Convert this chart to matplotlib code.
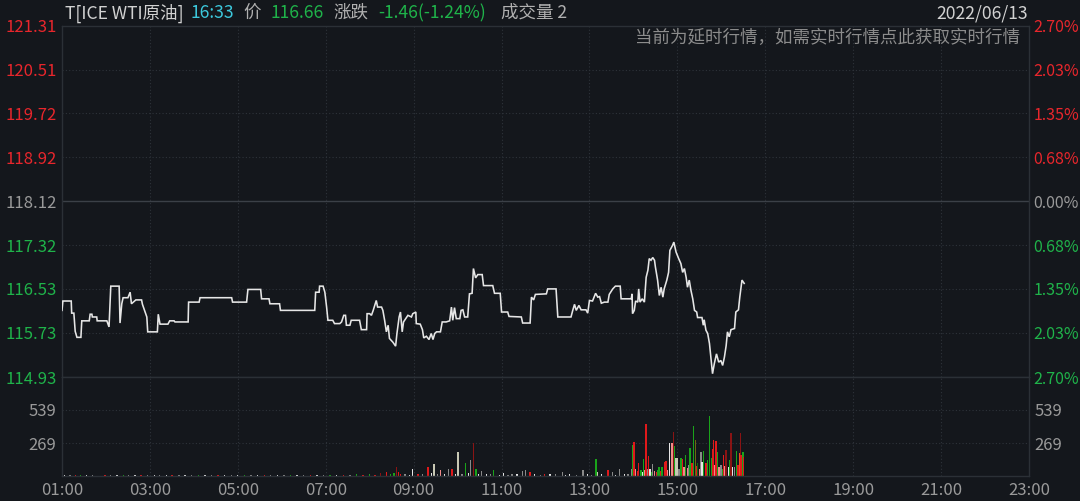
import matplotlib
matplotlib.use("Agg")
import matplotlib.pyplot as plt
import numpy as np

plt.rcParams['font.family'] = ['Noto Sans CJK SC', 'DejaVu Sans']

# ---------------- data ----------------
prev_close = 118.12
price_ticks = [114.93, 115.73, 116.53, 117.32, 118.12, 118.92, 119.72, 120.51, 121.31]
pct_labels = ["2.70%", "2.03%", "1.35%", "0.68%", "0.00%", "0.68%", "1.35%", "2.03%", "2.70%"]
hour_ticks = [1, 3, 5, 7, 9, 11, 13, 15, 17, 19, 21, 23]
hour_labels = ["01:00", "03:00", "05:00", "07:00", "09:00", "11:00", "13:00",
               "15:00", "17:00", "19:00", "21:00", "23:00"]
vol_ticks = [269.5, 539]
vol_tick_labels = ["269", "539"]
vol_max = 808.5

t1 = [1.00,1.02,1.21,1.22,1.27,1.30,1.34,1.43,1.45,1.62,1.64,1.68,1.69,1.79,1.80,2.02,2.07,2.11,2.30,2.32,
      2.36,2.39,2.50,2.55,2.58,2.68,2.81,2.83,2.93,2.95,3.17,3.19,3.23,3.41,3.45,3.55,3.57,3.87,3.88,4.12,
      4.14,4.86,4.88,5.20,5.23,5.52,5.54,5.71,5.73,5.95,5.97,6.75,6.77,6.85,6.86,6.94,6.98,7.02,7.05,7.16,
      7.20,7.32,7.36,7.41,7.45,7.47,7.55,7.58,7.77,7.81,7.93,7.94,8.00,8.04,8.08,8.15,8.18,8.27,8.30,8.34]
p1 = [116.14,116.31,116.31,116.09,116.09,115.76,115.65,115.65,115.95,115.95,116.07,116.07,116.02,116.02,115.95,115.95,115.84,116.58,116.58,115.91,
      116.26,116.37,116.37,116.47,116.26,116.33,116.33,116.25,116.02,115.75,115.75,116.07,115.89,115.89,115.95,115.95,115.93,115.93,116.29,116.29,
      116.37,116.37,116.29,116.29,116.52,116.52,116.35,116.35,116.26,116.26,116.14,116.14,116.47,116.47,116.58,116.58,116.47,116.20,115.96,115.96,
      115.90,115.90,115.93,116.05,116.05,115.87,115.87,115.96,115.96,115.79,115.79,116.08,116.08,116.05,116.14,116.32,116.20,116.20,116.14,115.96]

t2 = [8.38,8.42,8.45,8.53,8.59,8.62,8.67,8.70,8.74,8.77,8.82,8.87,8.95,8.98,9.05,9.06,9.15,9.20,9.23,9.29,
      9.35,9.40,9.44,9.48,9.52,9.61,9.65,9.74,9.82,9.86,9.89,9.93,9.97,10.05,10.08,10.12,10.16,10.23,10.27,10.33,
      10.36,10.41,10.46,10.56,10.59,10.80,10.84,10.97,11.00,11.14,11.17,11.45,11.48,11.65,11.68,11.73,11.77,12.02,12.05,12.24,
      12.28,12.58,12.62,12.66,12.70,12.76,12.81,12.92,12.96,13.00,13.07,13.14,13.19,13.23,13.27,13.34,13.42,13.45,13.53,13.59,
      13.70,13.72,13.92]
p2 = [115.75,115.87,115.63,115.56,115.49,115.72,116.02,116.11,115.75,115.93,115.99,116.05,116.02,116.08,116.11,115.90,115.89,115.79,115.64,115.67,
      115.61,115.72,115.61,115.72,115.75,115.75,115.93,115.93,115.95,116.20,115.96,116.19,115.99,115.99,116.14,116.15,116.02,116.02,116.44,116.45,
      116.90,116.73,116.79,116.79,116.59,116.59,116.45,116.45,116.11,116.11,116.03,116.02,115.91,115.91,116.38,116.33,116.43,116.44,116.53,116.53,
      116.02,116.02,116.14,116.25,116.14,116.23,116.15,116.15,116.09,116.32,116.31,116.45,116.38,116.39,116.27,116.29,116.29,116.43,116.53,116.58,
      116.58,116.35,116.35]

t3 = [13.95,13.97,13.98,14.02,14.05,14.10,14.12,14.15,14.20,14.25,14.29,14.33,14.36,14.40,14.44,14.48,14.50,14.55,14.59,14.63,
      14.67,14.70,14.76,14.80,14.83,14.89,14.92,14.97,15.03,15.08,15.12,15.16,15.20,15.23,15.27,15.31,15.35,15.39,15.44,15.46,
      15.56,15.59,15.61,15.65,15.69,15.73,15.77,15.80,15.84,15.89,15.94,15.99,16.03,16.07,16.11,16.14,16.18,16.22,16.30,16.33,
      16.39,16.42,16.47,16.52]
p3 = [116.35,116.44,116.08,116.14,116.31,116.29,116.53,116.29,116.35,116.29,116.74,116.87,117.08,117.05,117.10,117.05,116.93,116.69,116.41,116.56,
      116.38,116.53,116.69,116.83,117.23,117.32,117.38,117.20,117.08,116.99,116.83,116.90,116.74,116.56,116.69,116.50,116.35,116.14,116.11,116.01,
      116.01,115.87,115.97,115.78,115.72,115.54,115.23,114.99,115.17,115.35,115.20,115.23,115.14,115.29,115.50,115.75,115.66,115.79,115.81,116.11,
      116.15,116.38,116.69,116.63]

# volume bars: time (hours), volume, colour code
vol_t = [1.00,
         1.05,1.18,1.30,1.42,1.55,1.70,1.85,1.98,2.10,2.25,2.40,2.52,2.66,2.80,2.95,3.10,3.22,3.38,3.50,3.66,
         3.80,3.95,4.10,4.25,4.40,4.55,4.70,4.85,5.00,5.15,5.30,5.45,5.60,5.75,5.90,6.05,6.20,6.35,6.50,6.65,
         6.80,6.95,7.10,7.25,7.40,7.55,7.70,7.85,8.00,8.12,8.25,8.38,8.48,
         8.55,8.61,8.65,8.70,8.80,8.90,8.98,9.10,9.20,9.33,9.40,9.46,9.55,9.61,9.70,9.80,9.87,9.95,10.01,10.10,
         10.18,10.25,10.29,10.36,10.42,10.48,10.54,10.65,10.75,10.82,10.95,11.05,11.15,11.24,11.35,11.48,11.55,11.65,11.75,11.88,
         11.98,12.10,12.22,12.38,12.45,12.55,12.70,12.85,12.95,13.05,13.15,13.18,13.28,13.42,13.52,13.60,13.68,13.80,13.88,13.95,
         13.98,14.01,14.05,14.09,14.12,14.17,14.20,14.23,14.26,14.29,14.32,14.35,14.38,14.41,14.44,14.48,14.52,14.55,14.58,14.61,
         14.65,14.70,14.74,14.78,14.82,14.88,14.91,14.93,14.95,14.99,15.02,15.05,15.08,15.12,15.15,15.18,15.23,15.26,15.29,15.33,
         15.37,15.41,15.44,15.46,15.50,15.54,15.56,15.60,15.65,15.69,15.73,15.77,15.80,15.82,15.85,15.88,15.92,15.95,15.99,16.02,
         16.05,16.08,16.11,16.16,16.20,16.22,16.26,16.30,16.35,16.38,16.41,16.43,16.45,16.49,16.51]
vol_v = [1200,
         12,6,9,5,10,7,4,11,6,8,5,12,7,6,9,5,8,10,6,7,
         9,5,8,6,11,7,5,9,6,8,10,5,7,6,9,8,5,11,6,7,
         9,5,12,8,6,10,14,9,18,12,22,30,16,
         25,77,30,20,15,10,58,18,14,71,22,96,15,49,18,58,58,20,195,16,
         110,25,132,269,58,20,44,18,14,49,12,22,10,16,14,44,49,36,15,12,
         20,14,18,36,12,15,10,49,16,12,137,36,14,49,30,12,58,20,15,55,
         255,274,60,40,104,50,30,137,45,428,60,165,55,35,99,40,30,50,70,40,
         77,118,126,45,269,269,359,241,151,151,60,55,145,137,70,173,63,90,228,104,
         406,291,80,104,60,200,118,208,104,132,488,145,219,291,90,283,200,77,90,60,
         173,80,214,77,132,351,77,77,208,90,186,351,173,192,159]
vol_c = ['g',
         'w','gr','r','g','w','gr','w','r','gr','w','g','gr','w','r','gr','w','gr','w','r','gr',
         'w','gr','g','w','gr','r','w','gr','w','g','gr','w','r','gr','w','gr','g','w','gr','r',
         'w','gr','g','w','r','gr','g','r','g','r','dr','r','g',
         'g','dr','r','r','gr','w','w','r','gr','r','w','lg','gr','p','w','gr','r','w','lg','gr',
         'g','w','gr','dr','g','w','gr','w','gr','g','w','w','gr','gr','w','gr','gr','r','w','gr',
         'r','w','gr','gr','w','w','gr','gr','w','gr','g','lg','w','r','gr','w','gr','w','gr','gr',
         'g','r','p','r','r','g','w','g','p','r','gr','r','w','g','gr','p','r','g','g','r',
         'g','r','r','p','w','p','dr','g','lg','lg','gr','gr','g','r','p','g','p','gr','g','r',
         'g','ol','r','dg','p','gr','w','g','r','g','g','g','r','r','p','r','g','p','gr','g',
         'r','p','dr','w','g','dr','w','gr','g','r','o','dr','r','g','r']

# ---------------- style ----------------
bg = '#14171c'
grid_c = '#2e333a'
spine_c = '#2b3036'
red = '#e8262c'
green = '#1fb34a'
gray = '#9a9a9a'
vol_colors = {'r': '#e0191b', 'dr': '#8a1414', 'g': '#1aa31a', 'dg': '#116c11',
              'w': '#e6e6e6', 'gr': '#8a8a8a', 'p': '#f08a8a', 'lg': '#c8c8b4',
              'ol': '#6b6a12', 'o': '#f04a20'}

W, H = 1080, 501
fig = plt.figure(figsize=(W / 100, H / 100), dpi=100)
fig.patch.set_facecolor(bg)

x0, x1 = 62, 1029
yt, ym, yb = 25.7, 377, 476
ax = fig.add_axes([x0 / W, 1 - ym / H, (x1 - x0) / W, (ym - yt) / H])
axv = fig.add_axes([x0 / W, 1 - yb / H, (x1 - x0) / W, (yb - ym) / H])

fs = 12
fs_r = 11.5
for a in (ax, axv):
    a.set_facecolor(bg)
    a.set_xlim(1, 23)
    for s in a.spines.values():
        s.set_color(spine_c)
        s.set_linewidth(1.0)
    for h in hour_ticks[1:-1]:
        a.axvline(h, color=grid_c, lw=0.8, ls=(0, (1, 2)), zorder=0)

# price panel
ax.set_ylim(price_ticks[0], price_ticks[-1])
for v in price_ticks[1:-1]:
    if v == prev_close:
        ax.axhline(v, color='#3b4047', lw=1.0, zorder=1)
    else:
        ax.axhline(v, color=grid_c, lw=0.8, ls=(0, (1, 2)), zorder=0)

times = np.array(t1 + t2 + t3)
prices = np.array(p1 + p2 + p3)
ax.plot(times, prices, color='#e6e6e6', lw=1.15, zorder=3, solid_joinstyle='miter')

ax.set_yticks(price_ticks)
ax.set_yticklabels([f"{v:.2f}" for v in price_ticks])
ax.tick_params(axis='y', length=0, pad=4, labelsize=fs)
ax.set_xticks([])
for lab, v in zip(ax.get_yticklabels(), price_ticks):
    lab.set_color(red if v > prev_close else (green if v < prev_close else gray))

ax2 = ax.twinx()
ax2.set_ylim(ax.get_ylim())
ax2.set_yticks(price_ticks)
ax2.set_yticklabels(pct_labels)
ax2.tick_params(axis='y', length=0, pad=3, labelsize=fs_r)
for s in ax2.spines.values():
    s.set_visible(False)
for lab, v in zip(ax2.get_yticklabels(), price_ticks):
    lab.set_color(red if v > prev_close else (green if v < prev_close else gray))

# volume panel
axv.set_ylim(0, vol_max)
for v in vol_ticks:
    axv.axhline(v, color=grid_c, lw=0.8, ls=(0, (1, 2)), zorder=0)
axv.bar(vol_t, vol_v, width=0.03, color=[vol_colors[c] for c in vol_c],
        align='center', zorder=2, linewidth=0)
axv.set_yticks(vol_ticks)
axv.set_yticklabels(vol_tick_labels)
axv.tick_params(axis='y', length=0, pad=4, labelsize=fs, labelcolor=gray,
                left=True, right=True, labelleft=True, labelright=True)
axv.set_xticks(hour_ticks)
axv.set_xticklabels(hour_labels)
axv.tick_params(axis='x', length=0, pad=4, labelsize=fs, labelcolor=gray)

# header
fs_h = 12.6
yh = 1 - 13 / H
hdr = [(65, "T[ICE WTI原油]", '#d2d2d2'), (190, "16:33", '#3cc8dc'), (243, "价", '#b0b0b0'),
       (270, "116.66", green), (333, "涨跌", '#b0b0b0'), (378, "-1.46(-1.24%)", green),
       (501, "成交量 2", '#b0b0b0')]
for x, s, c in hdr:
    fig.text(x / W, yh, s, color=c, fontsize=fs_h, ha='left', va='center')
fig.text(1028 / W, yh, "2022/06/13", color='#d2d2d2', fontsize=fs_h, ha='right', va='center')
fig.text(1020 / W, 1 - 38 / H, "当前为延时行情，如需实时行情点此获取实时行情", color='#8c8c8c',
         fontsize=fs_h, ha='right', va='center')

fig.savefig("out.png", dpi=100, facecolor=bg)
